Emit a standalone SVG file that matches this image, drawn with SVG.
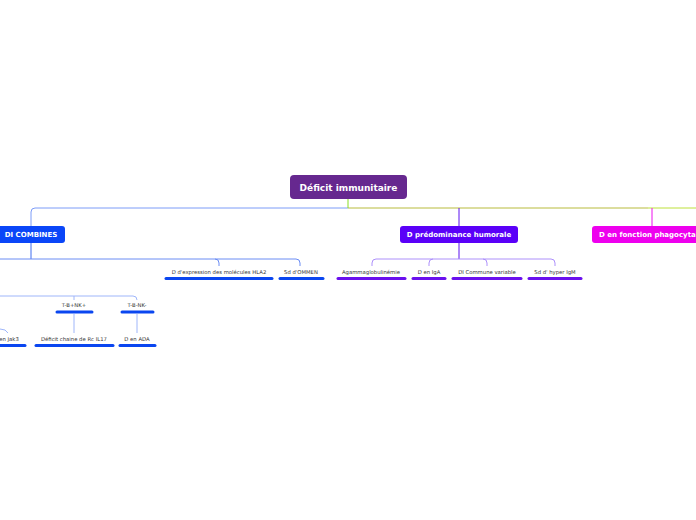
<svg xmlns="http://www.w3.org/2000/svg" width="696" height="520" viewBox="0 0 696 520">
<style>
.t{font-family:"DejaVu Sans",Verdana,sans-serif;font-size:5.3px;fill:#333;text-anchor:middle}
.nt{font-family:"DejaVu Sans",Verdana,sans-serif;font-weight:bold;fill:#fff;text-anchor:middle}
.c{fill:none;stroke-width:1}
.bb{stroke:#0a46f0;stroke-width:3;stroke-linecap:round}
.bp{stroke:#6a10ee;stroke-width:3;stroke-linecap:round}
</style>
<rect width="696" height="520" fill="#fff"/>
<g id="connectors">
<path class="c" stroke="#7c9cf8" stroke-width="1.3" d="M348 208 H35 Q31 208 31 212 V226"/>
<path class="c" stroke="#b8bb3c" stroke-width="1.3" d="M348 208 H648"/>
<path class="c" stroke="#bde03a" stroke-width="1.3" d="M648 208 H696"/>
<path class="c" stroke="#88dd22" stroke-width="1.3" d="M348 199 V208"/>
<path class="c" stroke="#5a10f0" stroke-width="1.3" d="M459 208 V226"/>
<path class="c" stroke="#ee10ee" stroke-width="1.3" d="M652 208 V226"/>
<path class="c" stroke="#3e6cf0" d="M31 243 V259"/>
<path class="c" stroke="#6a8cf4" d="M0 259 H296 Q300 259 300 263 V266 M215 259 Q219 259 219 263 V266"/>
<path class="c" stroke="#9fb6fa" d="M0 296 H133 Q137 296 137 300 M74 296 V300"/>
<path class="c" stroke="#9fb6fa" d="M74 314 V333 M137 314 V333"/>
<path class="c" stroke="#9fb6fa" d="M0 329 Q6 329 8 333"/>
<path class="c" stroke="#5a10f0" d="M459 243 V259"/>
<path class="c" stroke="#ad90fb" d="M376 259 H551 Q555 259 555 263 V266 M376 259 Q372 259 372 263 V266 M433 259 Q429 259 429 263 V266 M483 259 Q487 259 487 263 V266"/>
</g>
<g id="root">
<rect x="290" y="175" width="117" height="24" rx="4" fill="#66288f"/>
<text class="nt" x="348.5" y="190.5" font-size="9">Déficit immunitaire</text>
</g>
<g id="n-combines">
<rect x="-6" y="226" width="71" height="17" rx="3" fill="#0a46f8"/>
<text class="nt" x="31" y="237" font-size="7">DI COMBINES</text>
</g>
<g id="n-humorale">
<rect x="400" y="226" width="118" height="17" rx="3" fill="#5a00f8"/>
<text class="nt" x="459" y="237" font-size="7">D prédominance humorale</text>
</g>
<g id="n-phago">
<rect x="592" y="226" width="120" height="17" rx="3" fill="#ee00ee"/>
<text class="nt" x="599" y="237" font-size="7" style="text-anchor:start">D en fonction phagocytaire</text>
</g>
<g id="n-hla2">
<text class="t" x="219" y="274">D d'expression des molécules HLA2</text>
<line class="bb" x1="166" y1="278.5" x2="272" y2="278.5"/>
</g>
<g id="n-ommen">
<text class="t" x="301" y="274">Sd d'OMMEN</text>
<line class="bb" x1="280" y1="278.5" x2="323" y2="278.5"/>
</g>
<g id="n-tbnkp">
<text class="t" x="74" y="307">T-B+NK+</text>
<line class="bb" x1="57" y1="312" x2="92" y2="312"/>
</g>
<g id="n-tbnkm">
<text class="t" x="137" y="307">T-B-NK-</text>
<line class="bb" x1="122" y1="312" x2="153" y2="312"/>
</g>
<g id="n-jak3">
<text class="t" x="9" y="341">en Jak3</text>
<line class="bb" x1="-2" y1="345.5" x2="25" y2="345.5"/>
</g>
<g id="n-il17">
<text class="t" x="74" y="341">Déficit chaine de Rc IL17</text>
<line class="bb" x1="36" y1="345.5" x2="113" y2="345.5"/>
</g>
<g id="n-ada">
<text class="t" x="137" y="341">D en ADA</text>
<line class="bb" x1="120" y1="345.5" x2="155" y2="345.5"/>
</g>
<g id="n-agam">
<text class="t" x="371" y="274">Agammaglobulinémie</text>
<line class="bb bp" x1="338" y1="278.5" x2="405" y2="278.5"/>
</g>
<g id="n-iga">
<text class="t" x="429" y="274">D en IgA</text>
<line class="bp" x1="413" y1="278.5" x2="445" y2="278.5"/>
</g>
<g id="n-dicv">
<text class="t" x="487" y="274">DI Commune variable</text>
<line class="bp" x1="453" y1="278.5" x2="521" y2="278.5"/>
</g>
<g id="n-higm">
<text class="t" x="555" y="274">Sd d'  hyper IgM</text>
<line class="bp" x1="529" y1="278.5" x2="581" y2="278.5"/>
</g>
</svg>
